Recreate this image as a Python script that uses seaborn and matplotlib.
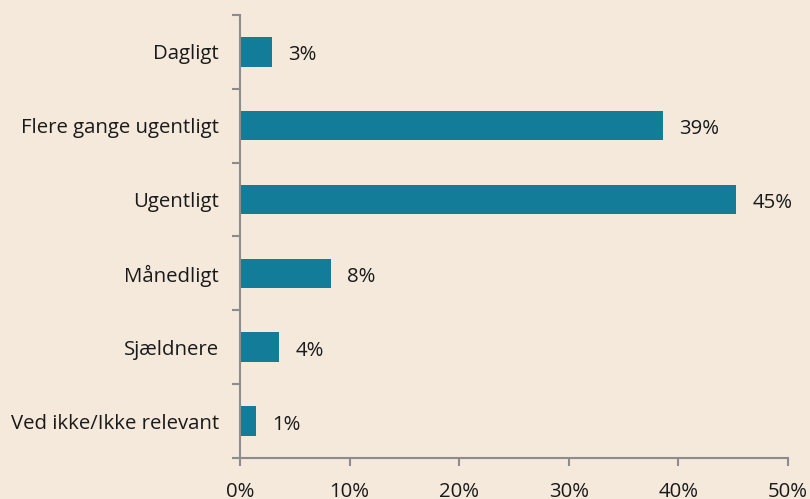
import matplotlib
matplotlib.use("Agg")
import matplotlib.pyplot as plt
import seaborn as sns
import pandas as pd

categories = ["Dagligt", "Flere gange ugentligt", "Ugentligt", "Månedligt",
              "Sjældnere", "Ved ikke/Ikke relevant"]
shares = [2.9, 38.6, 45.3, 8.3, 3.6, 1.45]
x_ticks = [0, 10, 20, 30, 40, 50]

bg = "#F5E9DC"
bar_color = "#137C99"
axis_gray = "#8C8C8C"
text_color = "#1A1A1A"
fs = 14.7

sns.set_theme(style="white")
plt.rcParams["font.family"] = ["Open Sans", "DejaVu Sans"]

df = pd.DataFrame({"kategori": categories, "andel": shares})

fig = plt.figure(figsize=(8.1, 4.99), dpi=100, facecolor=bg)
ax = fig.add_axes([0.2963, 0.0822, 0.9725 - 0.2963, 0.970 - 0.0822])
ax.set_facecolor(bg)

sns.barplot(data=df, x="andel", y="kategori", color=bar_color, width=0.4,
            saturation=1, ax=ax, orient="h", linewidth=0)

ax.set_xlim(0, 50)
ax.set_ylim(len(categories) - 0.5, -0.5)

# value labels, set just right of each bar
for i, v in enumerate(shares):
    ax.annotate(f"{v:.0f}%", (v, i), xytext=(11.5, -2.5), textcoords="offset points",
                va="center", ha="left", fontsize=fs, color=text_color)

# x axis
ax.set_xticks(x_ticks)
ax.set_xticklabels([f"{t}%" for t in x_ticks], fontsize=fs, color=text_color)
ax.tick_params(axis="x", bottom=True, length=5.5, width=1.5, color=axis_gray,
               pad=12, direction="out")

# y axis: tick marks at category boundaries, labels at centres
ax.set_yticks([i - 0.5 for i in range(len(categories) + 1)])
ax.set_yticklabels([])
ax.set_yticks(range(len(categories)), minor=True)
ax.set_yticklabels(categories, minor=True, fontsize=fs, color=text_color)
ax.tick_params(axis="y", which="major", left=True, length=5.5, width=1.5,
               color=axis_gray, direction="out")
ax.tick_params(axis="y", which="minor", left=True, length=0, pad=15)

ax.set_xlabel("")
ax.set_ylabel("")
for s in ["top", "right"]:
    ax.spines[s].set_visible(False)
for s in ["left", "bottom"]:
    ax.spines[s].set_color(axis_gray)
    ax.spines[s].set_linewidth(1.5)

fig.savefig("out.png", dpi=100, facecolor=bg)
